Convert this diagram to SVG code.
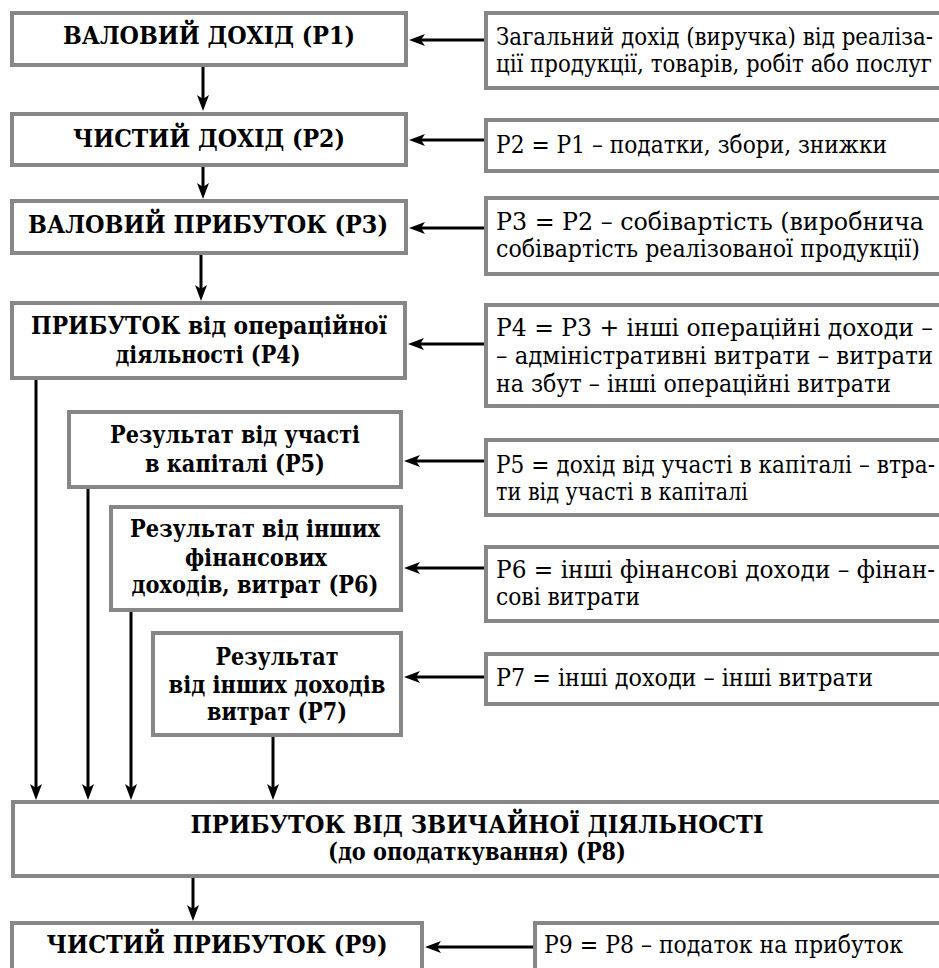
<svg xmlns="http://www.w3.org/2000/svg" width="939" height="968" viewBox="0 0 939 968">
<defs>
<style>
.box{fill:#fff;stroke:#878787;stroke-width:4}
.b{font-family:'DejaVu Serif',serif;font-weight:bold;font-size:24px;fill:#000;text-anchor:middle}
.r{font-family:'DejaVu Serif',serif;font-size:24px;fill:#000}
.ln{stroke:#000;stroke-width:3;fill:none}
</style>
<marker id="ah" markerUnits="userSpaceOnUse" markerWidth="20" markerHeight="16" viewBox="0 -8 20 16" refX="8" refY="0" orient="auto">
<path d="M0,-6 L16,0 L0,6 L4,0 Z" fill="#000"/>
</marker>
</defs>
<rect width="939" height="968" fill="#fff"/>
<g id="connectors">
<line class="ln" x1="203" y1="67" x2="203" y2="103" marker-end="url(#ah)"/>
<line class="ln" x1="203" y1="167" x2="203" y2="191" marker-end="url(#ah)"/>
<line class="ln" x1="201" y1="255" x2="201" y2="293" marker-end="url(#ah)"/>
<line class="ln" x1="36" y1="380" x2="36" y2="792" marker-end="url(#ah)"/>
<line class="ln" x1="88" y1="489" x2="88" y2="792" marker-end="url(#ah)"/>
<line class="ln" x1="131" y1="612" x2="131" y2="792" marker-end="url(#ah)"/>
<line class="ln" x1="273" y1="737" x2="273" y2="792" marker-end="url(#ah)"/>
<line class="ln" x1="193" y1="878" x2="193" y2="913" marker-end="url(#ah)"/>
<line class="ln" x1="484" y1="40" x2="417" y2="40" marker-end="url(#ah)"/>
<line class="ln" x1="484" y1="140" x2="417" y2="140" marker-end="url(#ah)"/>
<line class="ln" x1="484" y1="228" x2="417" y2="228" marker-end="url(#ah)"/>
<line class="ln" x1="484" y1="344" x2="416" y2="344" marker-end="url(#ah)"/>
<line class="ln" x1="484" y1="461" x2="412" y2="461" marker-end="url(#ah)"/>
<line class="ln" x1="484" y1="568" x2="412" y2="568" marker-end="url(#ah)"/>
<line class="ln" x1="484" y1="677" x2="412" y2="677" marker-end="url(#ah)"/>
<line class="ln" x1="533" y1="947" x2="433" y2="947" marker-end="url(#ah)"/>
</g>
<g id="p1"><rect class="box" x="12" y="13" width="394" height="52"/><text class="b" x="209" y="44" textLength="292" lengthAdjust="spacingAndGlyphs">ВАЛОВИЙ ДОХІД (Р1)</text></g>
<g id="p2"><rect class="box" x="12" y="114" width="394" height="51"/><text class="b" x="209" y="147" textLength="272" lengthAdjust="spacingAndGlyphs">ЧИСТИЙ ДОХІД (Р2)</text></g>
<g id="p3"><rect class="box" x="12" y="201" width="394" height="52"/><text class="b" x="208" y="233" textLength="360" lengthAdjust="spacingAndGlyphs">ВАЛОВИЙ ПРИБУТОК (Р3)</text></g>
<g id="p4"><rect class="box" x="12" y="303" width="393" height="75"/><text class="b" x="209" y="334" textLength="356" lengthAdjust="spacingAndGlyphs">ПРИБУТОК від операційної</text><text class="b" x="208" y="363" textLength="185" lengthAdjust="spacingAndGlyphs">діяльності (Р4)</text></g>
<g id="p5"><rect class="box" x="69" y="412" width="332" height="75"/><text class="b" x="235" y="443" textLength="250" lengthAdjust="spacingAndGlyphs">Результат від участі</text><text class="b" x="235" y="472" textLength="180" lengthAdjust="spacingAndGlyphs">в капіталі (Р5)</text></g>
<g id="p6"><rect class="box" x="111" y="507" width="290" height="103"/><text class="b" x="255" y="537" textLength="250" lengthAdjust="spacingAndGlyphs">Результат від інших</text><text class="b" x="256" y="566" textLength="142" lengthAdjust="spacingAndGlyphs">фінансових</text><text class="b" x="255" y="593" textLength="247" lengthAdjust="spacingAndGlyphs">доходів, витрат (Р6)</text></g>
<g id="p7"><rect class="box" x="153" y="633" width="248" height="102"/><text class="b" x="277" y="665" textLength="123" lengthAdjust="spacingAndGlyphs">Результат</text><text class="b" x="277" y="693" textLength="217" lengthAdjust="spacingAndGlyphs">від інших доходів</text><text class="b" x="277" y="720" textLength="140" lengthAdjust="spacingAndGlyphs">витрат (Р7)</text></g>
<g id="p8"><rect class="box" x="13" y="802" width="940" height="74"/><text class="b" x="477" y="833" textLength="573" lengthAdjust="spacingAndGlyphs">ПРИБУТОК ВІД ЗВИЧАЙНОЇ ДІЯЛЬНОСТІ</text><text class="b" x="477" y="860" textLength="298" lengthAdjust="spacingAndGlyphs">(до оподаткування) (Р8)</text></g>
<g id="p9"><rect class="box" x="12" y="923" width="410" height="60"/><text class="b" x="217" y="953" textLength="341" lengthAdjust="spacingAndGlyphs">ЧИСТИЙ ПРИБУТОК (Р9)</text></g>
<g id="d1"><rect class="box" x="486" y="13" width="460" height="75"/><text class="r" x="496" y="45" textLength="437" lengthAdjust="spacingAndGlyphs">Загальний дохід (виручка) від реаліза-</text><text class="r" x="496" y="72" textLength="436" lengthAdjust="spacingAndGlyphs">ції продукції, товарів, робіт або послуг</text></g>
<g id="d2"><rect class="box" x="486" y="120" width="460" height="51"/><text class="r" x="496" y="153" textLength="391" lengthAdjust="spacingAndGlyphs">P2 = P1 – податки, збори, знижки</text></g>
<g id="d3"><rect class="box" x="486" y="198" width="460" height="76"/><text class="r" x="496" y="230" textLength="428" lengthAdjust="spacingAndGlyphs">P3 = P2 – собівартість (виробнича</text><text class="r" x="496" y="257" textLength="424" lengthAdjust="spacingAndGlyphs">собівартість реалізованої продукції)</text></g>
<g id="d4"><rect class="box" x="486" y="305" width="460" height="101"/><text class="r" x="496" y="336" textLength="437" lengthAdjust="spacingAndGlyphs">P4 = P3 + інші операційні доходи –</text><text class="r" x="496" y="364" textLength="437" lengthAdjust="spacingAndGlyphs">– адміністративні витрати – витрати</text><text class="r" x="496" y="392" textLength="395" lengthAdjust="spacingAndGlyphs">на збут – інші операційні витрати</text></g>
<g id="d5"><rect class="box" x="486" y="440" width="460" height="75"/><text class="r" x="496" y="473" textLength="439" lengthAdjust="spacingAndGlyphs">P5 = дохід від участі в капіталі – втра-</text><text class="r" x="496" y="500" textLength="252" lengthAdjust="spacingAndGlyphs">ти від участі в капіталі</text></g>
<g id="d6"><rect class="box" x="486" y="547" width="460" height="74"/><text class="r" x="496" y="578" textLength="439" lengthAdjust="spacingAndGlyphs">P6 = інші фінансові доходи – фінан-</text><text class="r" x="496" y="605" textLength="144" lengthAdjust="spacingAndGlyphs">сові витрати</text></g>
<g id="d7"><rect class="box" x="486" y="654" width="460" height="50"/><text class="r" x="496" y="686" textLength="377" lengthAdjust="spacingAndGlyphs">P7 = інші доходи – інші витрати</text></g>
<g id="d9"><rect class="box" x="535" y="923" width="420" height="60"/><text class="r" x="544" y="953" textLength="359" lengthAdjust="spacingAndGlyphs">P9 = P8 – податок на прибуток</text></g>
</svg>
